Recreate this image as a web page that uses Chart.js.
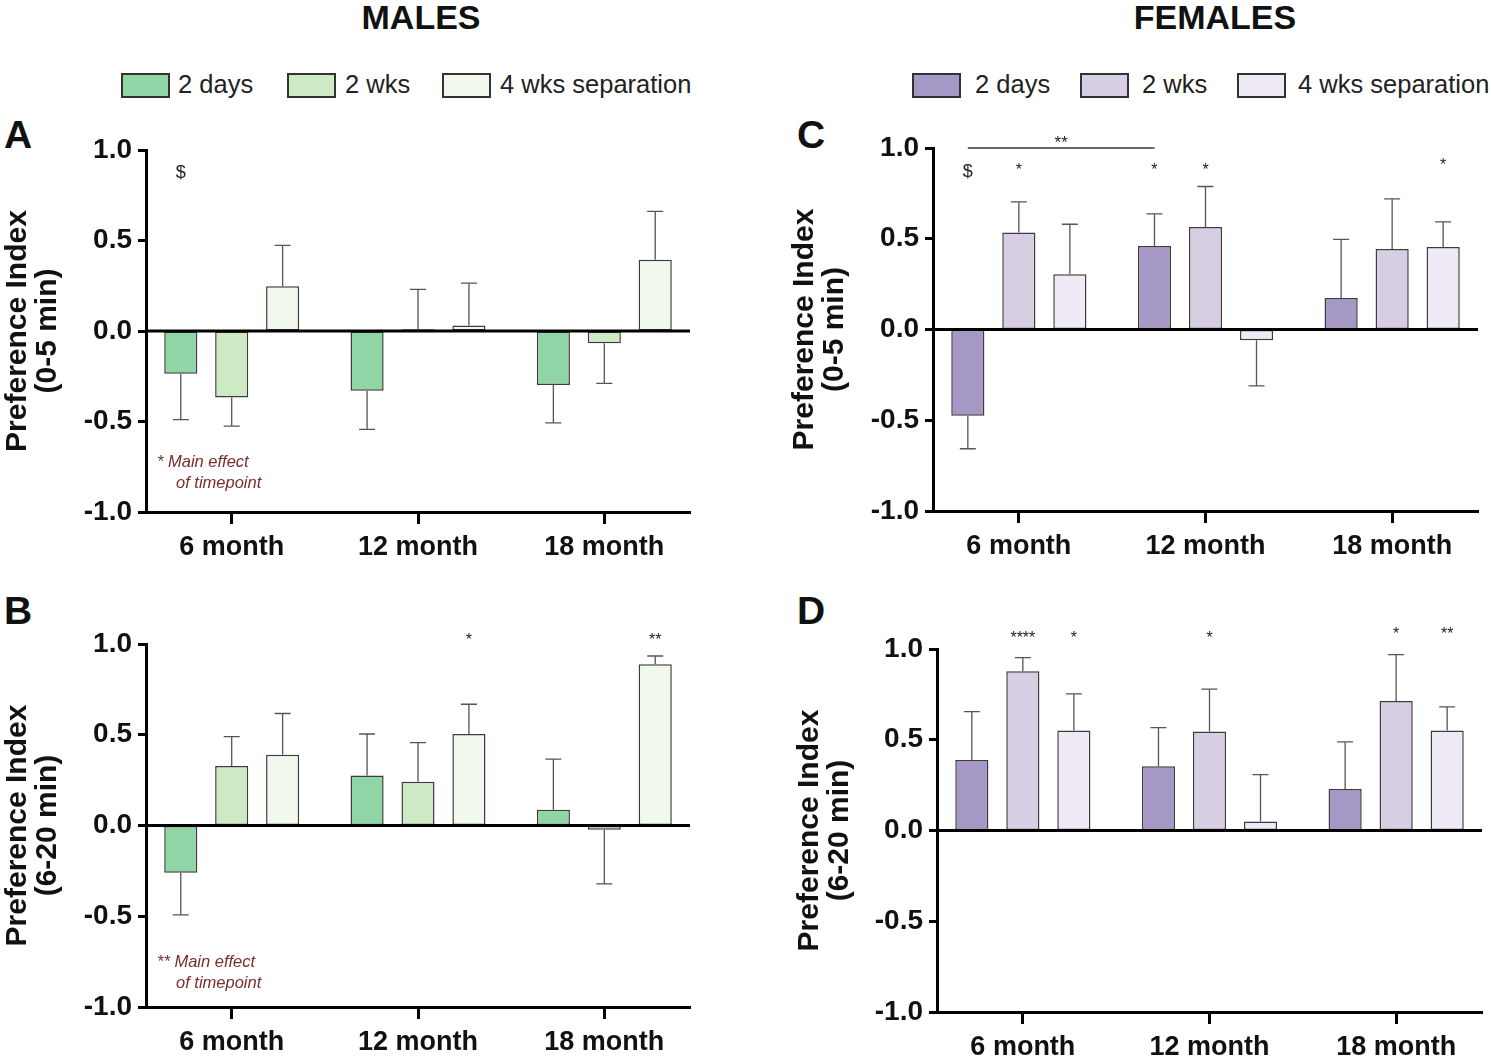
<!DOCTYPE html>
<html>
<head>
<meta charset="utf-8">
<script src="https://cdn.jsdelivr.net/npm/chart.js@4.4.0/dist/chart.umd.min.js"></script>
<style>
body { margin:0; background:#fff; width:1491px; height:1060px; position:relative; overflow:hidden; font-family:"Liberation Sans", Arial, sans-serif; color:#111; }
.abs { position:absolute; white-space:nowrap; }
.head { font-weight:bold; font-size:34px; top:-2px; transform:translateX(-50%); }
.letter { font-size:39px; font-weight:bold; }
.box { position:absolute; top:73px; width:45px; height:21px; border:2px solid #333; }
.legtxt { position:absolute; top:70px; font-size:25.5px; color:#222; }
.note { color:#7b2d2d; font-style:italic; font-size:16.5px; line-height:21px; }
canvas { position:absolute; }
</style>
</head>
<body>
<div class="abs head" style="left:421px">MALES</div>
<div class="abs head" style="left:1215px">FEMALES</div>

<div class="box" style="left:121px;background:#8fd5a6"></div><div class="legtxt" style="left:178px">2 days</div>
<div class="box" style="left:287px;background:#cdeac5"></div><div class="legtxt" style="left:345px">2 wks</div>
<div class="box" style="left:442px;background:#f1f9ef"></div><div class="legtxt" style="left:500px">4 wks separation</div>

<div class="box" style="left:912px;background:#a598c7"></div><div class="legtxt" style="left:975px">2 days</div>
<div class="box" style="left:1080px;background:#d7cee4"></div><div class="legtxt" style="left:1142px">2 wks</div>
<div class="box" style="left:1237px;background:#efeaf5"></div><div class="legtxt" style="left:1298px">4 wks separation</div>

<div class="abs letter" style="left:4px;top:113px">A</div>
<div class="abs letter" style="left:4px;top:589px">B</div>
<div class="abs letter" style="left:797px;top:113px">C</div>
<div class="abs letter" style="left:797px;top:589px">D</div>

<canvas id="panelA" width="710" height="470" style="left:0;top:110px"></canvas>
<canvas id="panelB" width="710" height="460" style="left:0;top:600px"></canvas>
<canvas id="panelC" width="711" height="470" style="left:780px;top:110px"></canvas>
<canvas id="panelD" width="711" height="460" style="left:780px;top:600px"></canvas>

<div class="abs note" style="left:157px;top:451px">* Main effect</div>
<div class="abs note" style="left:176px;top:472px">of timepoint</div>
<div class="abs note" style="left:157px;top:951px">** Main effect</div>
<div class="abs note" style="left:176px;top:972px">of timepoint</div>

<script>
// categories and series
const months = ['6 month', '12 month', '18 month'];
const seriesNames = ['2 days', '2 wks', '4 wks separation'];
const yTicks = [-1, -0.5, 0, 0.5, 1];
const xMin = -0.46;
const xMax = 2.46;

// A: males, 0-5 min
const maleEarly2d = [-0.236, -0.33, -0.298];
const maleEarly2w = [-0.368, 0.01, -0.068];
const maleEarly4w = [0.247, 0.03, 0.394];
const maleEarly2dErr = [0.254, 0.213, 0.21];
const maleEarly2wErr = [0.157, 0.22, 0.221];
const maleEarly4wErr = [0.226, 0.235, 0.267];

// B: males, 6-20 min
const maleLate2d = [-0.261, 0.276, 0.087];
const maleLate2w = [0.328, 0.241, -0.024];
const maleLate4w = [0.39, 0.504, 0.888];
const maleLate2dErr = [0.231, 0.228, 0.279];
const maleLate2wErr = [0.162, 0.216, 0.298];
const maleLate4wErr = [0.227, 0.164, 0.046];

// C: females, 0-5 min
const femEarly2d = [-0.475, 0.46, 0.173];
const femEarly2w = [0.534, 0.565, 0.443];
const femEarly4w = [0.305, -0.059, 0.455];
const femEarly2dErr = [0.182, 0.177, 0.324];
const femEarly2wErr = [0.169, 0.223, 0.277];
const femEarly4wErr = [0.275, 0.252, 0.138];

// D: females, 6-20 min
const femLate2d = [0.388, 0.354, 0.228];
const femLate2w = [0.878, 0.545, 0.713];
const femLate4w = [0.551, 0.05, 0.551];
const femLate2dErr = [0.267, 0.213, 0.26];
const femLate2wErr = [0.074, 0.234, 0.256];
const femLate4wErr = [0.202, 0.258, 0.13];

// significance marks (series index, category index, height in axis units)
const marksA = [{ds: 0, cat: 0, y: 0.87, text: '$'}];
const marksB = [{ds: 2, cat: 1, y: 1.04, text: '*'}, {ds: 2, cat: 2, y: 1.04, text: '**'}];
const marksC = [
    {ds: 0, cat: 0, y: 0.87, text: '$'},
    {ds: 1, cat: 0, y: 0.9, text: '*'},
    {ds: 0, cat: 1, y: 0.9, text: '*'},
    {ds: 1, cat: 1, y: 0.9, text: '*'},
    {ds: 2, cat: 2, y: 0.925, text: '*'}
];
const bracketC = {ds: 0, from: 0, to: 1, y: 1.0, text: '**'};
const marksD = [
    {ds: 1, cat: 0, y: 1.08, text: '****'},
    {ds: 2, cat: 0, y: 1.08, text: '*'},
    {ds: 1, cat: 1, y: 1.08, text: '*'},
    {ds: 1, cat: 2, y: 1.10, text: '*'},
    {ds: 2, cat: 2, y: 1.10, text: '**'}
];

const greens = ['#8fd5a6', '#cdeac5', '#f1f9ef'];
const purples = ['#a598c7', '#d7cee4', '#efeaf5'];

// error bars, zero line and significance marks
function extras(errs, marks, bracket) {
    return {
        id: 'extras',
        afterDatasetsDraw(chart) {
            const ctx = chart.ctx;
            const y = chart.scales.y;
            const area = chart.chartArea;
            ctx.save();
            ctx.strokeStyle = '#555';
            ctx.lineWidth = 1.3;
            errs.forEach((e, i) => {
                chart.getDatasetMeta(i).data.forEach((bar, j) => {
                    const v = chart.data.datasets[i].data[j].y;
                    const end = v < 0 ? v - e[j] : v + e[j];
                    const y0 = y.getPixelForValue(v);
                    const y1 = y.getPixelForValue(end);
                    ctx.beginPath();
                    ctx.moveTo(bar.x, y0);
                    ctx.lineTo(bar.x, y1);
                    ctx.moveTo(bar.x - 8, y1);
                    ctx.lineTo(bar.x + 8, y1);
                    ctx.stroke();
                });
            });

            const z = y.getPixelForValue(0);
            ctx.strokeStyle = '#000';
            ctx.lineWidth = 3;
            ctx.beginPath();
            ctx.moveTo(area.left, z);
            ctx.lineTo(area.right, z);
            ctx.stroke();

            ctx.fillStyle = '#222';
            ctx.textAlign = 'center';
            ctx.textBaseline = 'middle';
            marks.forEach(m => {
                const bar = chart.getDatasetMeta(m.ds).data[m.cat];
                const py = y.getPixelForValue(m.y);
                if (m.text === '$') {
                    ctx.font = '18px "Liberation Sans"';
                    ctx.fillText(m.text, bar.x, py);
                } else {
                    ctx.font = '16px "Liberation Sans"';
                    ctx.fillText(m.text, bar.x, py + 4);
                }
            });

            if (bracket) {
                const meta = chart.getDatasetMeta(bracket.ds);
                const x0 = meta.data[bracket.from].x;
                const x1 = meta.data[bracket.to].x;
                const by = y.getPixelForValue(bracket.y);
                ctx.strokeStyle = '#333';
                ctx.lineWidth = 1.5;
                ctx.beginPath();
                ctx.moveTo(x0, by);
                ctx.lineTo(x1, by);
                ctx.stroke();
                ctx.font = '17px "Liberation Sans"';
                ctx.fillText(bracket.text, (x0 + x1) / 2, by - 5);
            }
            ctx.restore();
        }
    };
}

function makePanel(id, vals, errs, colors, title, box, marks, bracket) {
    const canvas = document.getElementById(id);
    new Chart(canvas, {
        type: 'bar',
        data: {
            datasets: vals.map((v, i) => ({
                label: seriesNames[i],
                data: v.map((val, j) => ({ x: j, y: val })),
                backgroundColor: colors[i],
                borderColor: '#3c3c3c',
                borderWidth: 1.5,
                borderSkipped: false,
                categoryPercentage: 0.82,
                barPercentage: 0.65
            }))
        },
        options: {
            responsive: false,
            animation: false,
            layout: { padding: { top: box.top, right: box.right, left: 0, bottom: 0 } },
            plugins: { legend: { display: false }, tooltip: { enabled: false } },
            scales: {
                x: {
                    type: 'linear',
                    min: xMin,
                    max: xMax,
                    offset: false,
                    afterBuildTicks: s => { s.ticks = months.map((m, j) => ({ value: j })); },
                    grid: { offset: false, drawOnChartArea: false, tickLength: 12, tickWidth: 3, tickColor: '#000' },
                    border: { width: 3, color: '#000' },
                    ticks: {
                        padding: 7, color: '#111',
                        font: { family: '"Liberation Sans"', size: 27, weight: 'bold' },
                        callback: v => months[v]
                    },
                    afterFit: s => { s.height = box.xh; }
                },
                y: {
                    min: -1,
                    max: 1,
                    afterBuildTicks: s => { s.ticks = yTicks.map(v => ({ value: v })); },
                    grid: { drawOnChartArea: false, tickLength: 8, tickWidth: 3, tickColor: '#000' },
                    border: { width: 3, color: '#000' },
                    ticks: {
                        padding: 6, color: '#111',
                        font: { family: '"Liberation Sans"', size: 28, weight: 'bold' },
                        callback: v => v.toFixed(1)
                    },
                    title: {
                        display: true, text: title, color: '#111',
                        font: { family: '"Liberation Sans"', size: 30, weight: 'bold', lineHeight: 1.0 },
                        padding: { top: box.tp, bottom: 0 }
                    },
                    afterFit: s => { s.width = box.yw; }
                }
            }
        },
        plugins: [extras(errs, marks, bracket)]
    });
}

makePanel('panelA',
    [maleEarly2d, maleEarly2w, maleEarly4w],
    [maleEarly2dErr, maleEarly2wErr, maleEarly4wErr],
    greens, ['Preference Index', '(0-5 min)'],
    { top: 40, right: 20, xh: 68, yw: 146, tp: 3 }, marksA, null);

makePanel('panelB',
    [maleLate2d, maleLate2w, maleLate4w],
    [maleLate2dErr, maleLate2wErr, maleLate4wErr],
    greens, ['Preference Index', '(6-20 min)'],
    { top: 44, right: 20, xh: 53, yw: 146, tp: 3 }, marksB, null);

makePanel('panelC',
    [femEarly2d, femEarly2w, femEarly4w],
    [femEarly2dErr, femEarly2wErr, femEarly4wErr],
    purples, ['Preference Index', '(0-5 min)'],
    { top: 38, right: 13, xh: 69, yw: 153, tp: 10 }, marksC, bracketC);

makePanel('panelD',
    [femLate2d, femLate2w, femLate4w],
    [femLate2dErr, femLate2wErr, femLate4wErr],
    purples, ['Preference Index', '(6-20 min)'],
    { top: 49, right: 9, xh: 48, yw: 157, tp: 15 }, marksD, null);
</script>
</body>
</html>
